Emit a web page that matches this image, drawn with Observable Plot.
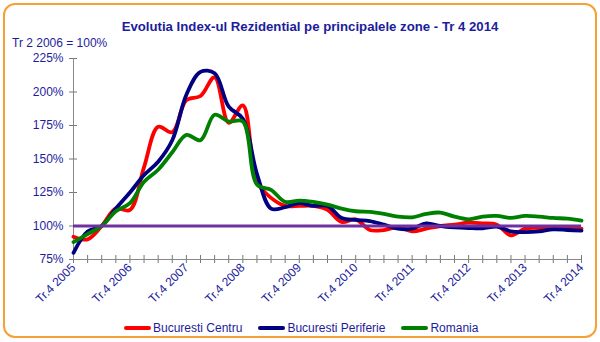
<!DOCTYPE html>
<html>
<head>
<meta charset="utf-8">
<script src="https://cdn.jsdelivr.net/npm/d3@7"></script>
<script src="https://cdn.jsdelivr.net/npm/@observablehq/plot@0.6"></script>
<style>
  html, body { margin: 0; padding: 0; background: #fff; }
  body { font-family: "Liberation Sans", Arial, sans-serif; }
  #wrap { position: relative; width: 600px; height: 342px; overflow: hidden; background: #fff; }
  #frame { position: absolute; left: 3px; top: 3px; width: 590px; height: 331px; border: 2px solid #f7a035; border-radius: 12px; box-sizing: content-box; }
  #title { position: absolute; left: 0; width: 620px; top: 19px; text-align: center; font-weight: bold; font-size: 13.2px; color: #1c1c9c; white-space: nowrap; }
  #sub { position: absolute; left: 12px; top: 36px; font-size: 12px; color: #1c1c9c; white-space: nowrap; }
  #chart { position: absolute; left: 0; top: 0; }
  #legend { position: absolute; left: 124px; top: 321px; display: flex; align-items: center; font-size: 12px; color: #1c1c9c; white-space: nowrap; }
  .sw { display: inline-block; width: 27px; height: 4px; border-radius: 2px; margin-right: 2px; }
  .item { display: flex; align-items: center; margin-right: 16px; }
</style>
</head>
<body>
<div id="wrap">
  <div id="frame"></div>
  <div id="chart"></div>
  <div id="title"></div>
  <div id="sub"></div>
  <div id="legend"></div>
</div>
<script>
const titleText = "Evolutia Index-ul Rezidential pe principalele zone - Tr 4 2014";
const subText = "Tr 2 2006 = 100%";

const tickLabels = ["Tr.4 2005", "Tr.4 2006", "Tr.4 2007", "Tr.4 2008", "Tr.4 2009",
  "Tr.4 2010", "Tr.4 2011", "Tr.4 2012", "Tr.4 2013", "Tr.4 2014"];
const yTicks = [75, 100, 125, 150, 175, 200, 225];

const seriesNames = ["Bucuresti Centru", "Bucuresti Periferie", "Romania"];
const seriesColors = ["#ff0000", "#000080", "#008000"];

const centru = [92, 90, 100, 113, 112, 144, 174, 170, 194, 197, 211, 177, 190, 133, 121, 115, 115, 115, 112, 103,
  105, 97, 97, 99, 96, 98, 100, 101, 102.5, 102, 101, 93, 98, 98.5, 98, 98.5, 98];
const periferie = [80, 96, 100, 113, 125, 138, 148, 164, 198, 215, 214, 189, 180, 139, 113, 114, 117, 115, 115, 106,
  104.5, 103.7, 101, 98, 98, 102, 100, 99, 98.5, 98.3, 99.5, 96, 95.5, 96, 97.5, 97, 96.5];
const romania = [88, 94, 100, 111, 117, 133, 142, 155, 168, 164, 183, 178, 178, 131, 127, 118, 119, 118, 116, 113,
  111, 110.5, 109, 107, 106.5, 109, 110, 107, 105, 107, 107.5, 106, 107.5, 107, 106, 105.5, 104];

const baseline = [100];

const allSeries = [centru, periferie, romania];
const rows = allSeries.flatMap((vals, s) => vals.map((v, i) => ({i, v, s: seriesNames[s]})));
const nQ = centru.length;
const quarterTicks = d3.range(nQ);
const textColor = "#1c1c9c";
const none = () => "";

document.getElementById("title").textContent = titleText;
document.getElementById("sub").textContent = subText;

const chart = Plot.plot({
  width: 600,
  height: 342,
  marginLeft: 73,
  marginRight: 19,
  marginTop: 58,
  marginBottom: 83,
  style: {fontFamily: '"Liberation Sans", Arial, sans-serif', background: "transparent", overflow: "visible"},
  x: {domain: [0, nQ - 1], label: null},
  y: {domain: [75, 225], label: null},
  color: {domain: seriesNames, range: seriesColors},
  marks: [
    Plot.axisY({ticks: yTicks, tickFormat: d => d + "%", tickSize: 4, tickPadding: 6, fontSize: 12, color: textColor, stroke: "#777", label: null}),
    Plot.axisY({ticks: yTicks, tickFormat: none, tickSize: 4, dx: 4, stroke: "#777", label: null}),
    Plot.axisX({ticks: quarterTicks, tickFormat: i => i % 4 === 0 ? tickLabels[i / 4] : "", tickSize: 4, tickRotate: -45, tickPadding: 2, fontSize: 12, color: textColor, stroke: "#777", label: null}),
    Plot.axisX({ticks: quarterTicks, tickFormat: none, tickSize: 4, dy: -4, stroke: "#777", label: null}),
    Plot.ruleX([0], {stroke: "#888"}),
    Plot.ruleY([75], {stroke: "#888"}),
    Plot.line(rows, {x: "i", y: "v", stroke: "s", z: "s", strokeWidth: 3.8, curve: "catmull-rom"}),
    Plot.ruleY(baseline, {stroke: "#7030a0", strokeWidth: 3})
  ]
});
document.getElementById("chart").appendChild(chart);

const legend = document.getElementById("legend");
seriesNames.forEach((name, k) => {
  const item = document.createElement("div");
  item.className = "item";
  const sw = document.createElement("span");
  sw.className = "sw";
  sw.style.background = seriesColors[k];
  const t = document.createElement("span");
  t.textContent = name;
  item.appendChild(sw);
  item.appendChild(t);
  legend.appendChild(item);
});
</script>
</body>
</html>
